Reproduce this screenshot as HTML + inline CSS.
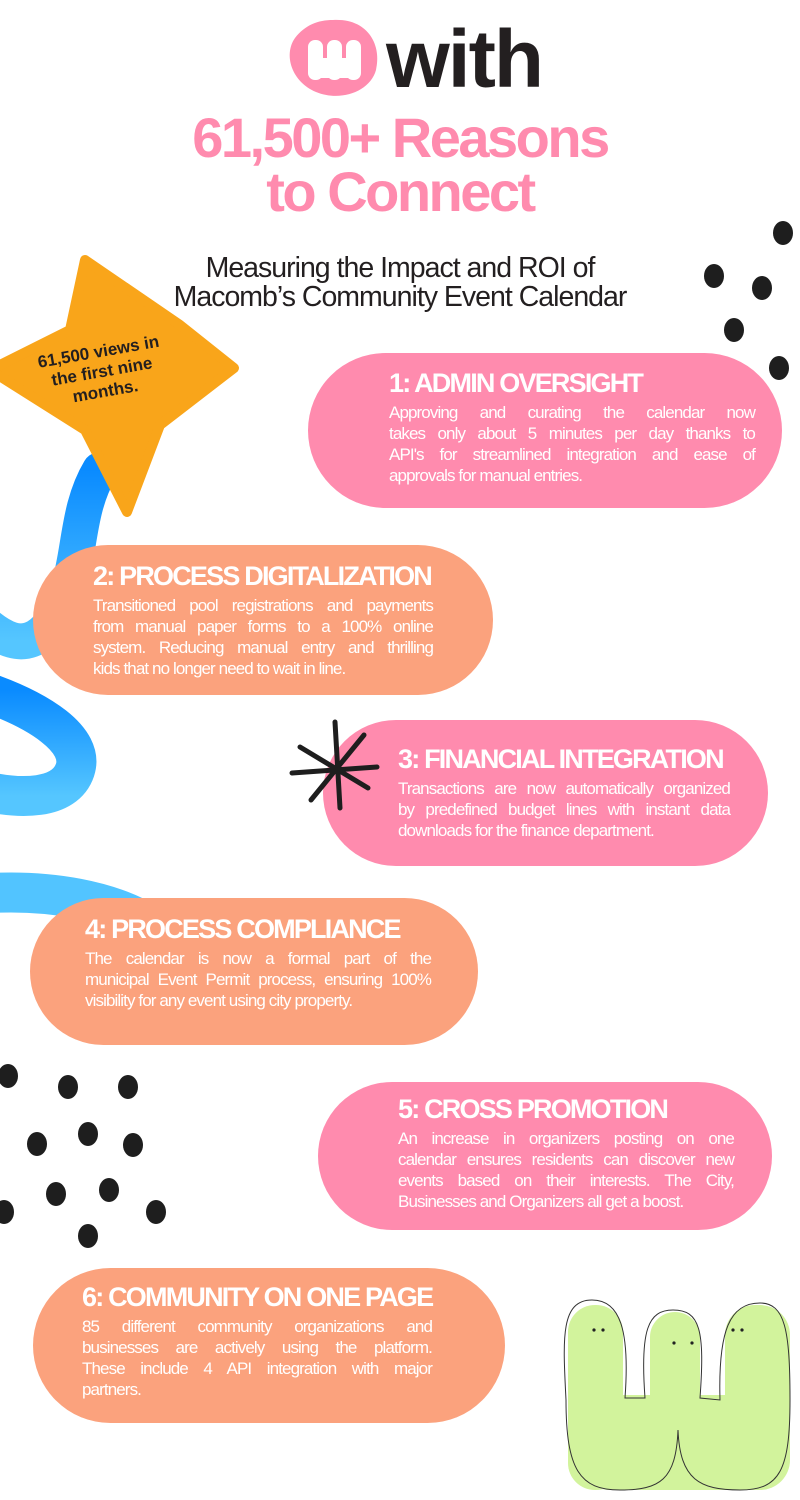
<!DOCTYPE html>
<html><head><meta charset="utf-8"><style>
body{margin:0;width:800px;height:1500px;background:#fff;position:relative;overflow:hidden;font-family:"Liberation Sans",sans-serif}
.a{position:absolute}
.box{position:absolute;border-radius:78px;color:#fff}
.box h2{margin:0;font-size:27px;font-weight:bold;letter-spacing:-1.8px;white-space:nowrap}
.box p{margin:3px 0 0;font-size:17px;line-height:21px;letter-spacing:-0.9px}
.box p span{display:block;text-align:justify;text-align-last:justify;white-space:nowrap}
.box p span.l{text-align-last:left}
.pink{background:#FF8BAE}.org{background:#FBA27D}
</style></head><body>
<svg class="a" style="left:0;top:0" width="800" height="1500">
<defs><linearGradient id="g" x1="0" y1="0" x2="0" y2="1"><stop offset="0" stop-color="#0a8bff"/><stop offset="1" stop-color="#55c6ff"/></linearGradient></defs>
<path d="M100 470 C70 520 85 580 50 625 C25 655 0 640 -30 610" stroke="url(#g)" stroke-width="36" fill="none" stroke-linecap="round"/>
<path d="M-20 690 C40 710 85 740 75 770 C65 800 20 800 -20 790" stroke="url(#g)" stroke-width="40" fill="none"/>
<path d="M-10 893 C50 890 110 900 150 925" stroke="#52c4ff" stroke-width="40" fill="none"/>
<path d="M85 260 L180 325 L234 368 L160 425 L127 512 L85 430 L-10 370 L70 330 Z" fill="#F9A51A" stroke="#F9A51A" stroke-width="10" stroke-linejoin="round"/>
<g fill="#1e1e1e">
<ellipse cx="783" cy="233" rx="10" ry="12"/><ellipse cx="714" cy="276" rx="10" ry="12"/><ellipse cx="762" cy="288" rx="10" ry="12"/><ellipse cx="734" cy="330" rx="10" ry="12"/><ellipse cx="779" cy="368" rx="10" ry="12"/>
<ellipse cx="8" cy="1076" rx="10" ry="12"/><ellipse cx="68" cy="1087" rx="10" ry="12"/><ellipse cx="128" cy="1087" rx="10" ry="12"/>
<ellipse cx="37" cy="1144" rx="10" ry="12"/><ellipse cx="88" cy="1134" rx="10" ry="12"/><ellipse cx="133" cy="1145" rx="10" ry="12"/>
<ellipse cx="4" cy="1212" rx="10" ry="12"/><ellipse cx="56" cy="1194" rx="10" ry="12"/><ellipse cx="109" cy="1190" rx="10" ry="12"/><ellipse cx="156" cy="1212" rx="10" ry="12"/><ellipse cx="88" cy="1236" rx="10" ry="12"/>
</g>
<g fill="#d2f39c">
<rect x="568" y="1305" width="55" height="185" rx="27"/><rect x="650" y="1312" width="50" height="110" rx="25"/><rect x="725" y="1305" width="65" height="185" rx="30"/><rect x="580" y="1395" width="200" height="95" rx="30"/>
</g>
<path d="M592 1300 C560 1300 563 1340 566 1400 C566 1470 580 1490 620 1490 C660 1490 676 1480 678 1430 C680 1480 700 1490 740 1490 C780 1490 790 1470 790 1400 C790 1330 785 1303 760 1303 C730 1303 718 1330 720 1400 L700 1398 C705 1330 700 1310 673 1310 C648 1310 640 1330 645 1398 L625 1398 C630 1330 620 1300 592 1300Z" fill="none" stroke="#333" stroke-width="1"/>
<g fill="#222"><circle cx="594" cy="1330" r="1.6"/><circle cx="603" cy="1330" r="1.6"/><circle cx="674" cy="1343" r="1.6"/><circle cx="692" cy="1343" r="1.6"/><circle cx="733" cy="1330" r="1.6"/><circle cx="742" cy="1330" r="1.6"/></g>
<path d="M333 20 C368 18 382 45 376 70 C370 92 340 102 316 92 C292 82 283 55 295 38 C305 25 318 20 333 20Z" fill="#FF8BAE"/>
<g fill="#fff"><rect x="308" y="40" width="15" height="40" rx="7"/><rect x="327" y="40" width="15" height="40" rx="7"/><rect x="346" y="40" width="15" height="40" rx="7"/><rect x="310" y="58" width="50" height="20" rx="8"/></g>
</svg>
<div class="a" style="left:386px;top:12px;font-size:82px;font-weight:bold;color:#231f20;letter-spacing:-2px;line-height:96px">with</div>
<div class="a" style="left:0;width:800px;top:111px;text-align:center;color:#FF8BAE;font-size:56px;font-weight:bold;letter-spacing:-2.5px;line-height:54px">61,500+ Reasons<br>to Connect</div>
<div class="a" style="left:0;width:800px;top:254px;text-align:center;color:#231f20;font-size:28.5px;letter-spacing:-1px;line-height:29px">Measuring the Impact and ROI of<br>Macomb’s Community Event Calendar</div>
<div class="a" style="left:22px;top:342px;width:160px;text-align:center;transform:rotate(-10deg);font-weight:bold;font-size:17px;line-height:20px;color:#231f20">61,500 views in<br>the first nine<br>months.</div>
<div class="box pink" style="left:308px;top:353px;width:474px;height:155px"><div style="position:absolute;left:81px;top:15px;width:366px"><h2>1: ADMIN OVERSIGHT</h2><p><span>Approving and curating the calendar now</span><span>takes only about 5 minutes per day thanks to</span><span>API's for streamlined integration and ease of</span><span class="l">approvals for manual entries.</span></p></div></div>
<div class="box org" style="left:33px;top:545px;width:460px;height:150px"><div style="position:absolute;left:60px;top:16px;width:340px"><h2>2: PROCESS DIGITALIZATION</h2><p><span>Transitioned pool registrations and payments</span><span>from manual paper forms to a 100% online</span><span>system. Reducing manual entry and thrilling</span><span class="l">kids that no longer need to wait in line.</span></p></div></div>
<div class="box pink" style="left:323px;top:720px;width:445px;height:146px"><div style="position:absolute;left:75px;top:24px;width:332px"><h2>3: FINANCIAL INTEGRATION</h2><p><span>Transactions are now automatically organized</span><span>by predefined budget lines with instant data</span><span class="l">downloads for the finance department.</span></p></div></div>
<div class="box org" style="left:30px;top:898px;width:448px;height:147px"><div style="position:absolute;left:55px;top:16px;width:346px"><h2>4: PROCESS COMPLIANCE</h2><p><span>The calendar is now a formal part of the</span><span>municipal Event Permit process, ensuring 100%</span><span class="l">visibility for any event using city property.</span></p></div></div>
<div class="box pink" style="left:318px;top:1082px;width:454px;height:148px"><div style="position:absolute;left:80px;top:12px;width:336px"><h2>5: CROSS PROMOTION</h2><p><span>An increase in organizers posting on one</span><span>calendar ensures residents can discover new</span><span>events based on their interests. The City,</span><span class="l">Businesses and Organizers all get a boost.</span></p></div></div>
<div class="box org" style="left:33px;top:1268px;width:472px;height:155px"><div style="position:absolute;left:49px;top:14px;width:350px"><h2>6: COMMUNITY ON ONE PAGE</h2><p><span>85 different community organizations and</span><span>businesses are actively using the platform.</span><span>These include 4 API integration with major</span><span class="l">partners.</span></p></div></div>
<svg class="a" style="left:0;top:0" width="800" height="900">
<g stroke="#1e1e1e" stroke-width="5" stroke-linecap="round">
<line x1="335" y1="722" x2="340" y2="808"/><line x1="300" y1="747" x2="368" y2="788"/><line x1="292" y1="773" x2="377" y2="767"/><line x1="311" y1="800" x2="364" y2="735"/>
</g></svg>
</body></html>
